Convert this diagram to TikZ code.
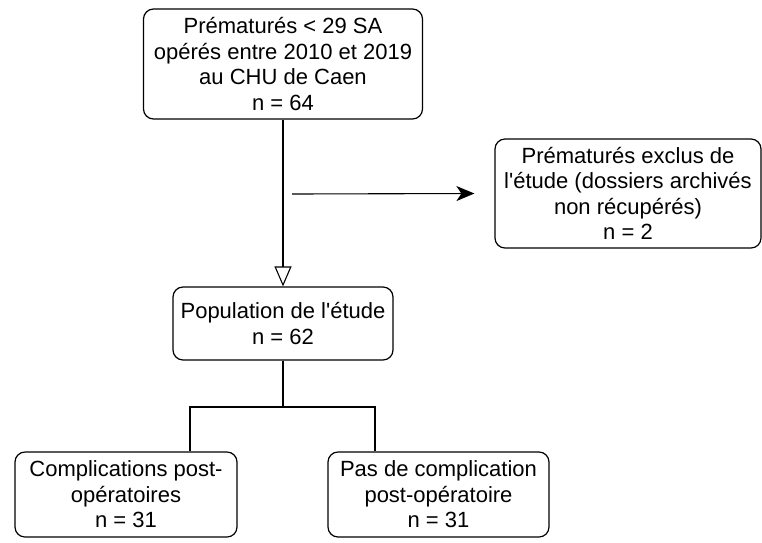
\documentclass[tikz,border=0pt]{standalone}
\usepackage{fontspec}
\setmainfont{Liberation Sans}
\usetikzlibrary{arrows.meta}

\begin{document}
\begin{tikzpicture}[x=1pt,y=1pt,
  box/.style={draw, line width=1.2pt, rounded corners=10pt, align=center, inner sep=0pt, font=\fontsize{22}{25.5}\selectfont},
  link/.style={line width=1.1pt}]
\useasboundingbox (0,0) rectangle (762,-542);
\node[box, minimum width=279pt, minimum height=110pt] (top) at (283,-64) {Prématurés < 29 SA\\opérés entre 2010 et 2019\\au CHU de Caen\\n = 64};
\node[box, minimum width=266pt, minimum height=109pt] (excl) at (628,-193.5) {Prématurés exclus de\\l\textquotesingle étude (dossiers archivés\\non récupérés)\\n = 2};
\node[box, minimum width=220pt, minimum height=73pt] (pop) at (283,-323.5) {Population de l\textquotesingle étude\\n = 62};
\node[box, minimum width=222pt, minimum height=85pt] (comp) at (126,-494.5) {Complications post-\\opératoires\\n = 31};
\node[box, minimum width=221pt, minimum height=85pt] (nocomp) at (438.5,-494.5) {Pas de complication\\post-opératoire\\n = 31};
\draw[link, -{Triangle[open, length=20pt, width=17pt]}] (top) -- (pop);
\coordinate (branch) at (292,-194);
\draw[link, -{Stealth[length=18pt, width=15pt, inset=5pt]}] (branch) -- ([xshift=-20pt]excl.west);
\coordinate (fork) at (283,-407);
\draw[link] (pop) -- (fork);
\draw[link] (fork) -| ([xshift=64pt]comp.north);
\draw[link] (fork) -| ([xshift=-63.5pt]nocomp.north);
\end{tikzpicture}
\end{document}
